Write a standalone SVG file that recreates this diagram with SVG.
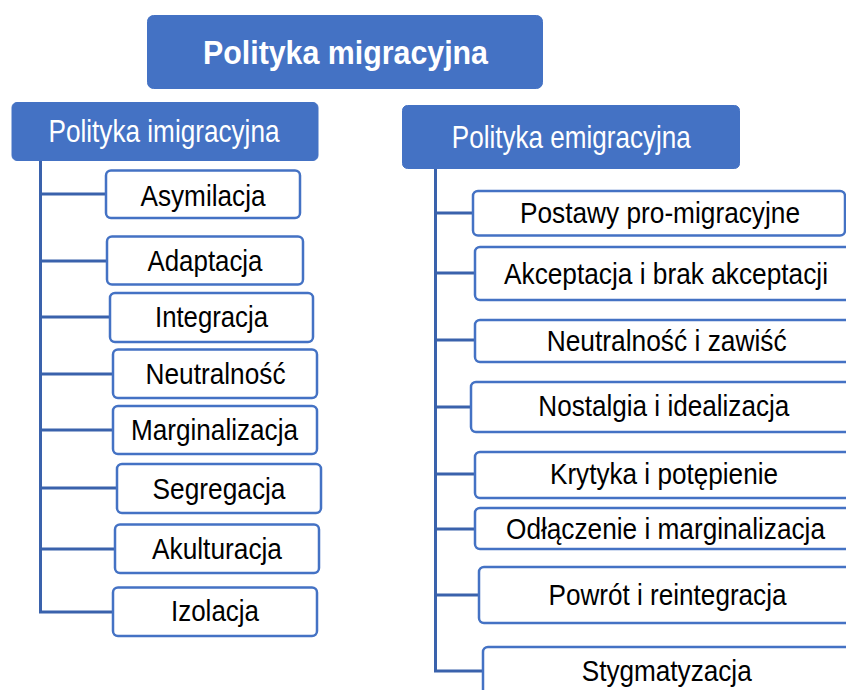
<svg xmlns="http://www.w3.org/2000/svg" width="846" height="690" viewBox="0 0 846 690">
<style>
.hdr{fill:#4472C4;stroke:#4472C4;stroke-width:1}
.box{fill:#FFFFFF;stroke:#4472C4;stroke-width:2.5}
.t{font-family:"Liberation Sans",Arial,sans-serif;font-size:29px;fill:#000;text-anchor:middle}
.th{font-family:"Liberation Sans",Arial,sans-serif;font-size:30.5px;fill:#FFFFFF;text-anchor:middle}
.tt{font-family:"Liberation Sans",Arial,sans-serif;font-size:34px;font-weight:bold;fill:#FFFFFF;text-anchor:middle}
.ln{fill:none;stroke:#3A62AC;stroke-width:3}
</style>
<rect width="846" height="690" fill="#FFFFFF"/>
<g id="connectors">
<path class="ln" d="M40.5,161 V612 H113 M40.5,194 H106 M40.5,261 H107 M40.5,317 H110 M40.5,374 H113 M40.5,430 H113 M40.5,488 H117 M40.5,549 H115"/>
<path class="ln" d="M435.5,169 V671 H483 M435.5,213 H473 M435.5,273 H475 M435.5,340 H475 M435.5,407 H471 M435.5,474 H475 M435.5,529 H475 M435.5,595 H479"/>
</g>
<g id="root">
<rect class="hdr" x="147.5" y="15.5" width="395" height="73" rx="6"/>
<text class="tt" x="345.5" y="64" textLength="285" lengthAdjust="spacingAndGlyphs">Polityka migracyjna</text>
</g>
<g id="imigracyjna">
<rect class="hdr" x="12" y="102.5" width="306" height="58" rx="5"/>
<text class="th" x="164" y="142" textLength="231" lengthAdjust="spacingAndGlyphs">Polityka imigracyjna</text>
</g>
<g id="emigracyjna">
<rect class="hdr" x="402.5" y="105.5" width="337" height="63" rx="5"/>
<text class="th" x="571.3" y="147.5" textLength="239" lengthAdjust="spacingAndGlyphs">Polityka emigracyjna</text>
</g>
<g id="asymilacja">
<rect class="box" x="106" y="170.5" width="194" height="47.5" rx="5"/>
<text class="t" x="203" y="205.5" textLength="125" lengthAdjust="spacingAndGlyphs">Asymilacja</text>
</g>
<g id="adaptacja">
<rect class="box" x="107" y="236.5" width="196" height="48" rx="5"/>
<text class="t" x="205" y="270.7" textLength="115" lengthAdjust="spacingAndGlyphs">Adaptacja</text>
</g>
<g id="integracja">
<rect class="box" x="110" y="293" width="203" height="49" rx="5"/>
<text class="t" x="211.5" y="327" textLength="113" lengthAdjust="spacingAndGlyphs">Integracja</text>
</g>
<g id="neutralnosc">
<rect class="box" x="113" y="349.5" width="204" height="48.5" rx="5"/>
<text class="t" x="215.5" y="383.5" textLength="140" lengthAdjust="spacingAndGlyphs">Neutralność</text>
</g>
<g id="marginalizacja">
<rect class="box" x="113" y="406" width="204" height="48" rx="5"/>
<text class="t" x="214.5" y="439.5" textLength="167" lengthAdjust="spacingAndGlyphs">Marginalizacja</text>
</g>
<g id="segregacja">
<rect class="box" x="117" y="464" width="204" height="49" rx="5"/>
<text class="t" x="219" y="498.5" textLength="133" lengthAdjust="spacingAndGlyphs">Segregacja</text>
</g>
<g id="akulturacja">
<rect class="box" x="115" y="524.5" width="204" height="48.5" rx="5"/>
<text class="t" x="217" y="558.5" textLength="130" lengthAdjust="spacingAndGlyphs">Akulturacja</text>
</g>
<g id="izolacja">
<rect class="box" x="113" y="587.5" width="204" height="48.5" rx="5"/>
<text class="t" x="215" y="620.5" textLength="88" lengthAdjust="spacingAndGlyphs">Izolacja</text>
</g>
<g id="postawy">
<rect class="box" x="473" y="191" width="372" height="44.5" rx="5"/>
<text class="t" x="660" y="223.3" textLength="280" lengthAdjust="spacingAndGlyphs">Postawy pro-migracyjne</text>
</g>
<g id="akceptacja">
<rect class="box" x="475" y="247" width="382" height="53" rx="5"/>
<text class="t" x="666" y="283.5" textLength="324" lengthAdjust="spacingAndGlyphs">Akceptacja i brak akceptacji</text>
</g>
<g id="neutralnosc-zawisc">
<rect class="box" x="475" y="320" width="382" height="42" rx="5"/>
<text class="t" x="666.7" y="350.5" textLength="240" lengthAdjust="spacingAndGlyphs">Neutralność i zawiść</text>
</g>
<g id="nostalgia">
<rect class="box" x="471" y="382" width="386" height="50" rx="5"/>
<text class="t" x="663.8" y="415.5" textLength="251" lengthAdjust="spacingAndGlyphs">Nostalgia i idealizacja</text>
</g>
<g id="krytyka">
<rect class="box" x="475" y="452" width="382" height="46" rx="5"/>
<text class="t" x="664" y="483.5" textLength="228" lengthAdjust="spacingAndGlyphs">Krytyka i potępienie</text>
</g>
<g id="odlaczenie">
<rect class="box" x="475" y="508" width="382" height="41" rx="5"/>
<text class="t" x="665.5" y="538.5" textLength="319" lengthAdjust="spacingAndGlyphs">Odłączenie i marginalizacja</text>
</g>
<g id="powrot">
<rect class="box" x="479" y="567" width="378" height="56" rx="5"/>
<text class="t" x="667.5" y="604.5" textLength="238" lengthAdjust="spacingAndGlyphs">Powrót i reintegracja</text>
</g>
<g id="stygmatyzacja">
<rect class="box" x="483" y="647" width="374" height="60" rx="5"/>
<text class="t" x="666.7" y="680.5" textLength="170" lengthAdjust="spacingAndGlyphs">Stygmatyzacja</text>
</g>
</svg>
